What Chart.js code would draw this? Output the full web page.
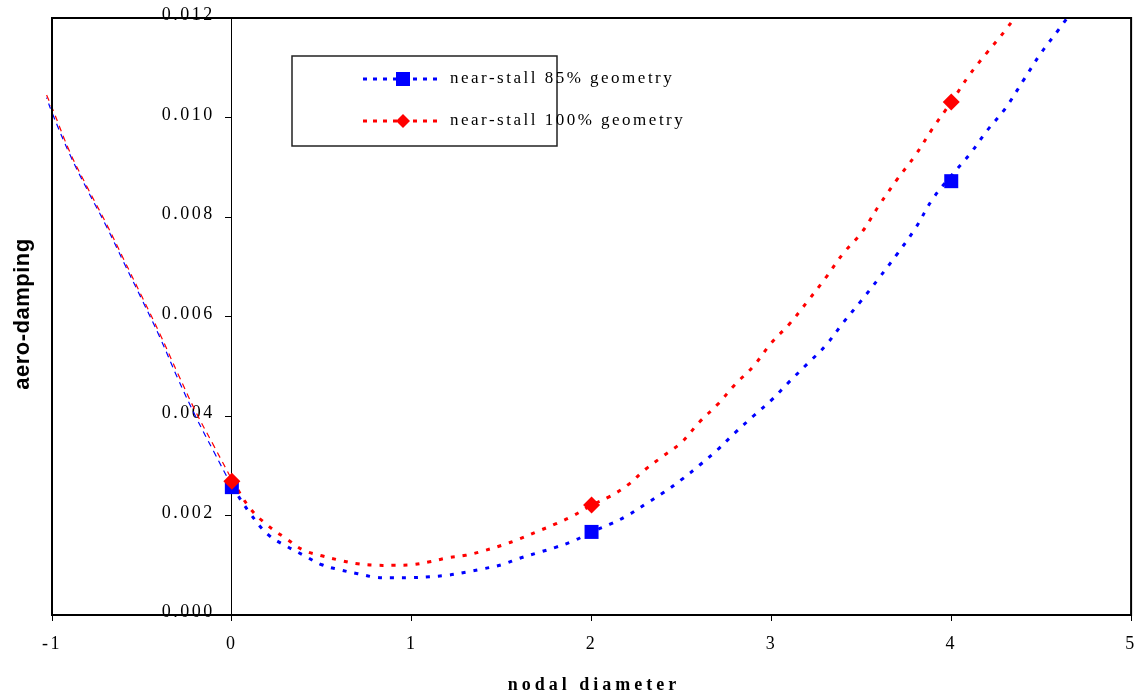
<!DOCTYPE html>
<html><head><meta charset="utf-8">
<script src="https://cdn.jsdelivr.net/npm/chart.js@4.4.1/dist/chart.umd.min.js"></script>
<style>html,body{margin:0;padding:0;background:#fff;}#wrap{width:1141px;height:694px;position:relative;}</style>
</head><body><div id="wrap"><canvas id="c" width="1141" height="694"></canvas></div>
<script>
const seriesNames = ['near-stall 85% geometry', 'near-stall 100% geometry'];
const xTitle = 'nodal diameter';
const yTitle = 'aero-damping';

const markerX = [0, 2, 4];
const markers85 = [0.00257, 0.00167, 0.00872];
const markers100 = [0.00269, 0.00221, 0.01031];

const leftX = [-1.03, -1.0, -0.9, -0.8, -0.7, -0.6, -0.5, -0.4, -0.3, -0.2, -0.1, 0];
const left85 = [0.0104, 0.0101, 0.00925, 0.00852, 0.00783, 0.00708, 0.00634, 0.00558, 0.00475, 0.00398, 0.00328, 0.00259];
const left100 = [0.01045, 0.0102, 0.0093, 0.00857, 0.00788, 0.00714, 0.0064, 0.00565, 0.00485, 0.00408, 0.0034, 0.00272];

const right85X = [0,0.1,0.2,0.3,0.4,0.5,0.6,0.7,0.8,0.9,1.0,1.1,1.2,1.3,1.4,1.5,1.6,1.7,1.8,1.9,2.0,2.1,2.2,2.3,2.4,2.5,2.6,2.7,2.8,2.9,3.0,3.1,3.2,3.3,3.4,3.5,3.6,3.7,3.8,3.9,4.0,4.1,4.2,4.3,4.4,4.5,4.6,4.7];
const right85 = [0.00259,0.00205,0.00162,0.00139,0.0012,0.00101,0.00091,0.00083,0.00076,0.00075,0.00075,0.00077,0.0008,0.00086,0.00093,0.00101,0.00114,0.00125,0.00136,0.00149,0.00167,0.00182,0.002,0.00223,0.00246,0.00272,0.00301,0.00332,0.00367,0.004,0.00432,0.00469,0.00505,0.00541,0.00588,0.00632,0.00678,0.00726,0.00777,0.00838,0.00883,0.00925,0.00974,0.01018,0.01074,0.0113,0.01178,0.01228];

const right100X = [0,0.1,0.2,0.3,0.4,0.5,0.6,0.7,0.8,0.9,1.0,1.1,1.2,1.3,1.4,1.5,1.6,1.7,1.8,1.9,2.0,2.1,2.2,2.3,2.4,2.5,2.6,2.7,2.8,2.9,3.0,3.1,3.2,3.3,3.4,3.5,3.6,3.7,3.8,3.9,4.0,4.1,4.2,4.3,4.4];
const right100 = [0.00272,0.00215,0.0018,0.00154,0.0013,0.00119,0.0011,0.00103,0.001,0.001,0.00101,0.00107,0.00115,0.0012,0.00129,0.0014,0.00153,0.00168,0.00183,0.002,0.00221,0.00238,0.00261,0.00293,0.0032,0.00347,0.00388,0.00423,0.00464,0.005,0.00547,0.00585,0.0063,0.00677,0.00727,0.00768,0.00824,0.00876,0.00924,0.0098,0.01031,0.01085,0.01131,0.01175,0.01225];

const xMin = -1, xMax = 5, xStep = 1;
const yMin = 0, yMax = 0.012, yStep = 0.002;

const BLUE = '#0000FF', RED = '#FF0000';
const pts = (xs, ys) => xs.map((x, i) => ({x: x, y: ys[i]}));

const serif = "'Liberation Serif','Times New Roman',serif";

const framePlugin = {
  id: 'frame',
  beforeDraw(chart) {
    chart.ctx.letterSpacing = '2.5px';
    const ys = chart.scales.y;
    if (ys && ys.getLabelItems) {
      const items = ys.getLabelItems();
      if (items && !items._shifted) {
        items.forEach(it => { if (it.options && it.options.translation) it.options.translation[0] -= 17; });
        items._shifted = true;
      }
    }
  },
  afterDraw(chart) {
    const ctx = chart.ctx, a = chart.chartArea;
    ctx.save();
    ctx.letterSpacing = '0px';
    ctx.strokeStyle = '#000';
    ctx.lineWidth = 2;
    ctx.strokeRect(a.left, a.top, a.right - a.left, a.bottom - a.top);
    // x title
    ctx.font = "bold 18px " + serif;
    ctx.letterSpacing = '4px';
    ctx.fillStyle = '#000';
    ctx.textAlign = 'center';
    ctx.textBaseline = 'middle';
    ctx.fillText(xTitle, 594, 685);
    // y title
    ctx.save();
    ctx.translate(23, 314);
    ctx.rotate(-Math.PI / 2);
    ctx.font = "bold 22px 'Liberation Sans', Arial, sans-serif";
    ctx.letterSpacing = '0.5px';
    ctx.fillStyle = '#000';
    ctx.textAlign = 'center';
    ctx.textBaseline = 'middle';
    ctx.fillText(yTitle, 0, 0);
    ctx.restore();
    // legend
    const bx = 292, by = 56, bw = 265, bh = 90;
    ctx.fillStyle = '#fff';
    ctx.fillRect(bx, by, bw, bh);
    ctx.strokeStyle = '#222';
    ctx.lineWidth = 1.5;
    ctx.strokeRect(bx, by, bw, bh);
    const rows = [{y: 79, c: BLUE, s: 'rect'}, {y: 121, c: RED, s: 'diamond'}];
    rows.forEach((r, i) => {
      ctx.save();
      ctx.strokeStyle = r.c;
      ctx.lineWidth = 3;
      ctx.setLineDash([4, 6]);
      ctx.beginPath();
      ctx.moveTo(363, r.y); ctx.lineTo(440, r.y);
      ctx.stroke();
      ctx.restore();
      ctx.fillStyle = r.c;
      if (r.s === 'rect') {
        ctx.fillRect(396, r.y - 7, 14, 14);
      } else {
        ctx.beginPath();
        ctx.moveTo(403, r.y - 7); ctx.lineTo(410, r.y); ctx.lineTo(403, r.y + 7); ctx.lineTo(396, r.y);
        ctx.closePath(); ctx.fill();
      }
      ctx.fillStyle = '#000';
      ctx.font = "17px " + serif;
      ctx.letterSpacing = '2.5px';
      ctx.textAlign = 'left';
      ctx.textBaseline = 'middle';
      ctx.fillText(seriesNames[i], 450, r.y);
    });
    ctx.restore();
  }
};

new Chart(document.getElementById('c'), {
  type: 'scatter',
  data: {
    datasets: [
      {label: seriesNames[1], data: pts(markerX, markers100), showLine: false, pointStyle: 'rectRot', pointRadius: 8.5, backgroundColor: RED, borderColor: RED, borderWidth: 0},
      {label: seriesNames[0], data: pts(markerX, markers85), showLine: false, pointStyle: 'rect', pointRadius: 9.9, backgroundColor: BLUE, borderColor: BLUE, borderWidth: 0},
      {label: 'r100', data: pts(right100X, right100), showLine: true, pointRadius: 0, borderColor: RED, borderWidth: 3, borderDash: [4, 8], tension: 0.4, fill: false},
      {label: 'r85', data: pts(right85X, right85), showLine: true, pointRadius: 0, borderColor: BLUE, borderWidth: 3, borderDash: [4, 8], tension: 0.4, fill: false},
      {label: 'l100', data: pts(leftX, left100), showLine: true, pointRadius: 0, borderColor: RED, borderWidth: 1.2, borderDash: [6, 5], tension: 0.4, fill: false, clip: {left: 8, top: 0, right: 0, bottom: 0}},
      {label: 'l85', data: pts(leftX, left85), showLine: true, pointRadius: 0, borderColor: BLUE, borderWidth: 1.2, borderDash: [6, 5], borderDashOffset: 5, tension: 0.4, fill: false, clip: {left: 8, top: 0, right: 0, bottom: 0}}
    ]
  },
  options: {
    responsive: false,
    devicePixelRatio: 1,
    animation: false,
    layout: {padding: {left: 52, right: 8, top: 18, bottom: 0}},
    plugins: {legend: {display: false}, tooltip: {enabled: false}},
    scales: {
      x: {
        type: 'linear', position: 'bottom', min: xMin, max: xMax,
        ticks: {stepSize: xStep, color: '#000', padding: 3, font: {family: serif, size: 18, lineHeight: 2.3}},
        grid: {display: true, drawOnChartArea: false, drawTicks: true, tickLength: 6, color: '#000'},
        border: {display: false},
        title: {display: false},
        afterFit(s) { s.height = 79; }
      },
      y: {
        type: 'linear', position: {x: 0}, min: yMin, max: yMax,
        ticks: {stepSize: yStep, color: '#000', padding: 0, labelOffset: -2.5, font: {family: serif, size: 18}, callback: v => v.toFixed(3)},
        grid: {display: true, drawOnChartArea: false, drawTicks: true, tickLength: 6, color: '#000'},
        border: {display: true, color: '#000', width: 1}
      }
    }
  },
  plugins: [framePlugin]
});
</script></body></html>
